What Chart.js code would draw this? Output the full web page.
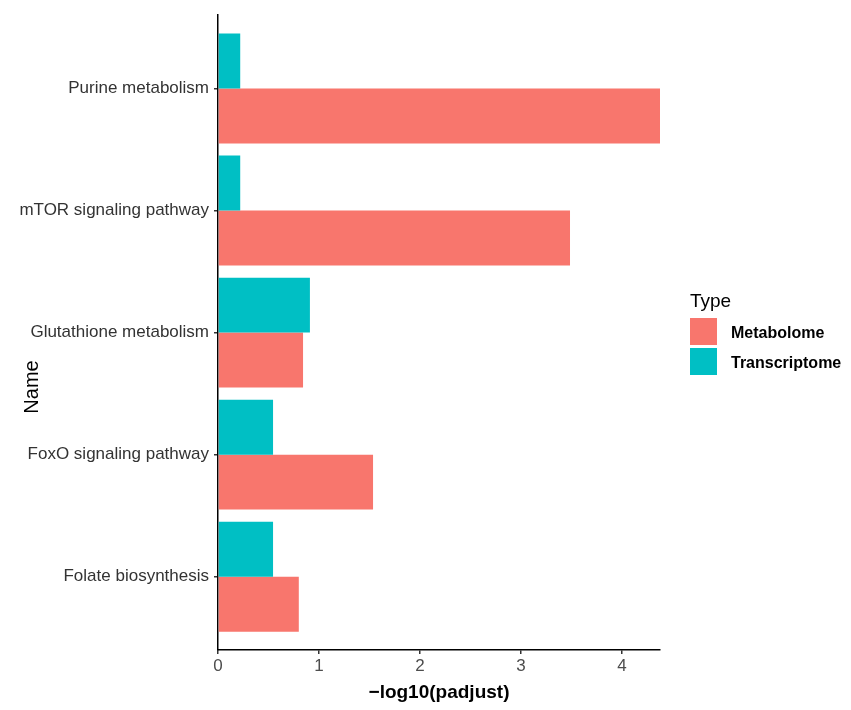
<!DOCTYPE html>
<html>
<head>
<meta charset="utf-8">
<script src="https://cdn.jsdelivr.net/npm/chart.js@4"></script>
<style>
  body { margin: 0; background: #fff; }
  #wrap { width: 851px; height: 710px; }
</style>
</head>
<body>
<div id="wrap"><canvas id="my_chart"></canvas></div>
<script>
var categories = [
    "Purine metabolism",
    "mTOR signaling pathway",
    "Glutathione metabolism",
    "FoxO signaling pathway",
    "Folate biosynthesis"
];
var transcriptome = [0.22, 0.22, 0.91, 0.545, 0.545];
var metabolome = [4.376, 3.485, 0.842, 1.535, 0.80];
var xTicks = [0, 1, 2, 3, 4];
var xMax = 4.376;

Chart.defaults.font.family = '"Liberation Sans", Arial, sans-serif';

// axis title "Name" and the Type legend, drawn like ggplot does
var extras = {
    id: 'extras',
    afterDraw: function (chart) {
        var ctx = chart.ctx;
        ctx.save();
        ctx.fillStyle = '#000';
        ctx.font = '20px "Liberation Sans", Arial, sans-serif';
        ctx.textAlign = 'center';
        ctx.textBaseline = 'alphabetic';
        ctx.translate(38, 387);
        ctx.rotate(-Math.PI / 2);
        ctx.fillText('Name', 0, 0);
        ctx.restore();

        ctx.save();
        ctx.fillStyle = '#000';
        ctx.textAlign = 'left';
        ctx.textBaseline = 'alphabetic';
        ctx.font = '19px "Liberation Sans", Arial, sans-serif';
        ctx.fillText('Type', 690, 307);
        var sets = chart.data.datasets.slice().reverse();
        sets.forEach(function (ds, i) {
            var y = 318 + i * 30;
            ctx.fillStyle = ds.backgroundColor;
            ctx.fillRect(690, y, 27, 27);
            ctx.fillStyle = '#000';
            ctx.font = 'bold 16px "Liberation Sans", Arial, sans-serif';
            ctx.fillText(ds.label, 731, y + 14 + 6);
        });
        ctx.restore();
    }
};

var ctx = document.getElementById("my_chart").getContext("2d");

new Chart(ctx, {
    type: 'bar',
    data: {
        labels: categories,
        datasets: [{
            label: 'Transcriptome',
            data: transcriptome,
            backgroundColor: '#00BFC4',
            borderWidth: 0,
            categoryPercentage: 0.9,
            barPercentage: 1.0
        }, {
            label: 'Metabolome',
            data: metabolome,
            backgroundColor: '#F8766D',
            borderWidth: 0,
            categoryPercentage: 0.9,
            barPercentage: 1.0
        }]
    },
    options: {
        indexAxis: 'y',
        responsive: true,
        maintainAspectRatio: false,
        animation: false,
        layout: {
            padding: { top: 15, right: 191, left: 0, bottom: 0 }
        },
        plugins: {
            legend: { display: false },
            tooltip: { enabled: false }
        },
        scales: {
            x: {
                min: 0,
                max: xMax,
                afterBuildTicks: function (scale) {
                    scale.ticks = xTicks.map(function (v) { return { value: v }; });
                },
                afterFit: function (scale) { scale.height = 60; },
                border: { color: '#000', width: 1.5 },
                grid: {
                    drawOnChartArea: false,
                    tickLength: 4,
                    color: '#333',
                    lineWidth: 1.5
                },
                ticks: {
                    color: '#4D4D4D',
                    padding: 2,
                    maxRotation: 0,
                    font: { size: 17 }
                },
                title: {
                    display: true,
                    text: '\u2212log10(padjust)',
                    color: '#000',
                    padding: { top: 0, bottom: 6 },
                    font: { size: 19, weight: 'bold' }
                }
            },
            y: {
                // ggplot leaves 0.6 of a band at each end of a discrete axis
                afterBuildTicks: function (scale) {
                    scale._startValue = -0.6;
                    scale._valueRange = categories.length - 1 + 1.2;
                },
                afterFit: function (scale) { scale.width = 218; },
                border: { color: '#000', width: 1.5 },
                grid: {
                    offset: false,
                    drawOnChartArea: false,
                    tickLength: 4,
                    color: '#333',
                    lineWidth: 1.5
                },
                ticks: {
                    color: '#333',
                    padding: 5,
                    font: { size: 17 }
                }
            }
        }
    },
    plugins: [extras]
});
</script>
</body>
</html>
